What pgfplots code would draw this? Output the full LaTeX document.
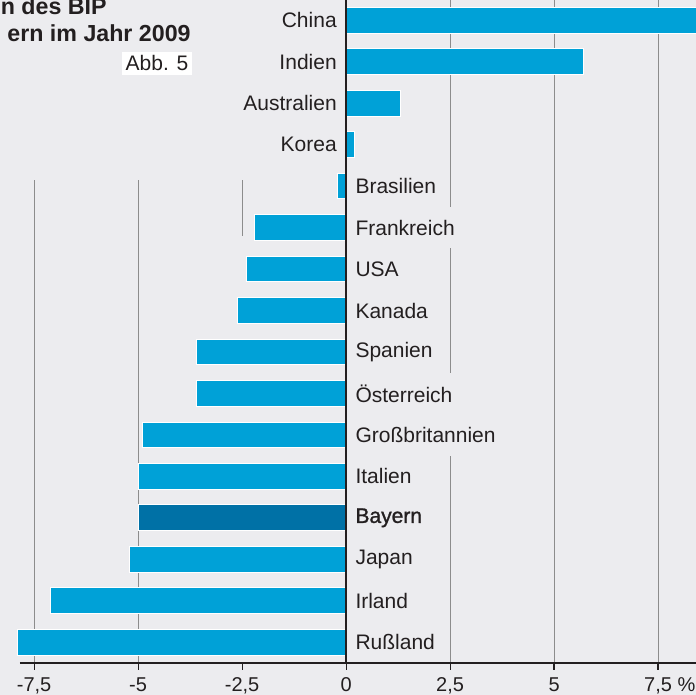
\documentclass[border=0pt]{standalone}
\usepackage{pgfplots}
\pgfplotsset{compat=1.18}
\usepackage{fontspec}
\setmainfont{Liberation Sans}
\newfontfamily\semibold[FakeBold=1.2]{Liberation Sans}
\definecolor{bgc}{RGB}{236,236,239}
\definecolor{barc}{RGB}{0,161,215}
\definecolor{bayc}{RGB}{0,113,166}
\definecolor{gridc}{RGB}{140,140,140}
\definecolor{txtc}{RGB}{35,31,32}

\begin{document}
\begin{tikzpicture}
\fill[bgc] (0,-16pt) rectangle (348pt,331.5pt);
\begin{axis}[
  at={(0,0)}, anchor=south west,
  x=20.8pt, y=20.735pt,
  xmin=-8.32, xmax=8.41, ymin=-0.5, ymax=15.5,
  axis x line*=bottom, axis y line=none,
  axis line style={draw=none},
  xtick={-7.5,-5,-2.5,0,2.5,5,7.5},
  xticklabels={{-7,5},{-5},{-2,5},{0},{2,5},{5},{7,5\rlap{ \%}}},
  tick align=outside,
  major tick length=3.5pt,
  x tick style={txtc, line width=0.6pt},
  xticklabel style={font=\fontsize{10}{12}\selectfont, text=txtc, inner sep=1pt, yshift=-2.5pt},
  ytick=\empty,
  clip=false,
]
% grid lines
\draw[gridc, line width=0.5pt] (axis cs:2.5,-0.5) -- (axis cs:2.5,15.5);
\draw[gridc, line width=0.5pt] (axis cs:5,-0.5) -- (axis cs:5,15.5);
\draw[gridc, line width=0.5pt] (axis cs:7.5,-0.5) -- (axis cs:7.5,15.5);
\draw[gridc, line width=0.5pt] (axis cs:-5,-0.5) -- (axis cs:-5,11.15);
\draw[gridc, line width=0.5pt] (axis cs:-7.5,-0.5) -- (axis cs:-7.5,11.15);
\draw[gridc, line width=0.5pt] (axis cs:-2.5,9.8) -- (axis cs:-2.5,11.15);

% bars
\addplot[xbar, bar width=0.62, bar shift=0pt, fill=barc, draw=white, line width=0.5pt]
coordinates {
  (8.7,15) (5.7,14) (1.3,13) (0.2,12) (-0.2,11) (-2.2,10) (-2.4,9) (-2.6,8)
  (-3.6,7) (-3.6,6) (-4.9,5) (-5.0,4) (-5.2,2) (-7.1,1) (-7.9,0)
};
\addplot[xbar, bar width=0.62, bar shift=0pt, fill=bayc, draw=white, line width=0.5pt]
coordinates {(-5.0,3)};

% category labels
\addplot[draw=none, point meta=explicit symbolic, nodes near coords,
  every node near coord/.append style={anchor=east, xshift=-2.5pt, fill=bgc,
    inner xsep=2pt, inner ysep=0pt, minimum height=20.8pt,
    font=\fontsize{10.5}{12}\selectfont, text=txtc}]
coordinates {(0,15)[China] (0,14)[Indien] (0,13)[Australien] (0,12)[Korea]};
\addplot[draw=none, point meta=explicit symbolic, nodes near coords,
  every node near coord/.append style={anchor=west, xshift=2.5pt, fill=bgc,
    inner xsep=2pt, inner ysep=0pt, minimum height=20.8pt,
    font=\fontsize{10.5}{12}\selectfont, text=txtc}]
coordinates {(0,11)[Brasilien] (0,10)[Frankreich] (0,9)[USA] (0,8)[Kanada]
  (0,7)[Spanien] (0,6)[Österreich] (0,5)[Großbritannien] (0,4)[Italien]
  (0,2)[Japan] (0,1)[Irland] (0,0)[Rußland]};
\addplot[draw=none, point meta=explicit symbolic, nodes near coords,
  every node near coord/.append style={anchor=west, xshift=2.5pt, fill=bgc,
    inner xsep=2pt, inner ysep=0pt, minimum height=20.8pt,
    font=\fontsize{10.5}{12}\selectfont\semibold, text=txtc}]
coordinates {(0,3)[Bayern]};

\coordinate (zb) at (axis cs:0,-0.5);
\coordinate (zt) at (axis cs:0,15.5);
\coordinate (bl) at (axis cs:-7.84,-0.5);
\coordinate (br) at (axis cs:8.41,-0.5);
\end{axis}
% axis lines on top of everything
\draw[txtc, line width=0.8pt] (zb) -- (zt);
\draw[txtc, line width=0.8pt] (bl) -- (br);
\node[anchor=base east, font=\fontsize{11.6}{13}\selectfont\bfseries, text=txtc, inner sep=0pt] at (53.5pt,324pt) {n des BIP};
\node[anchor=base east, font=\fontsize{11.6}{13}\selectfont\bfseries, text=txtc, inner sep=0pt] at (95.5pt,310.75pt) {ern im Jahr 2009};
\node[fill=white, inner sep=0pt, minimum width=35pt, minimum height=11.5pt,
  font=\fontsize{10.5}{12}\selectfont, text=txtc] at (78.5pt,299.75pt) {Abb. 5};
\pgfresetboundingbox
\path[use as bounding box] (0,-16pt) rectangle (348pt,331.5pt);
\end{tikzpicture}
\end{document}
